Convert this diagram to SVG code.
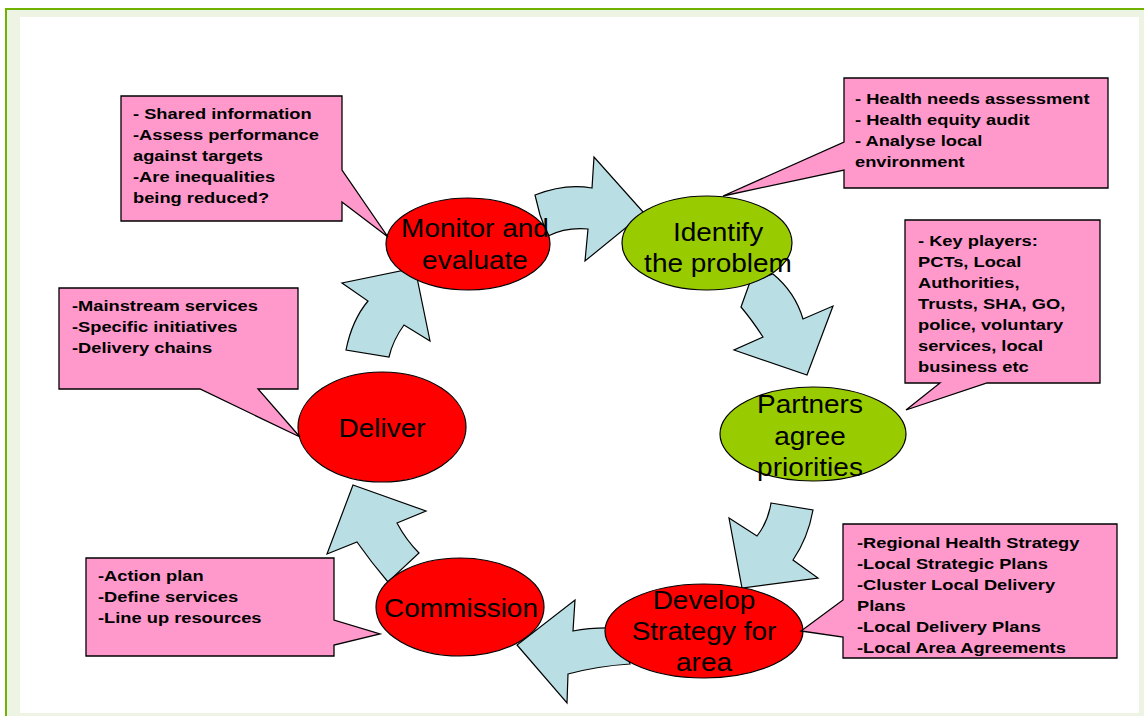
<svg xmlns="http://www.w3.org/2000/svg" width="1144" height="716" viewBox="0 0 1144 716">
<style>
.arrow{fill:#b9dfe4;stroke:#000;stroke-width:1.2;stroke-linejoin:miter}
.red{fill:#ff0000;stroke:#000;stroke-width:1.2}
.green{fill:#99cc00;stroke:#000;stroke-width:1.2}
.call{fill:#ff99cc;stroke:#000;stroke-width:1.3}
.ct{font-family:"Liberation Sans",Arial,sans-serif;font-weight:bold;font-size:15.5px;fill:#000}
.et{font-family:"Liberation Sans",Arial,sans-serif;font-size:25px;fill:#000;text-anchor:middle}
</style>
<rect x="6" y="9" width="1150" height="720" fill="#eef4e4" stroke="#6fb300" stroke-width="2"/>
<rect x="20" y="17" width="1119" height="696" fill="#ffffff"/>

<g id="connectors">
<path class="arrow" d="M535,195 Q565,183 592,188 L594,157 L644,213 L585,261 L588,229 Q566,227 548,236 L540,215 Z"/>
<path class="arrow" d="M741,307 L750,282 L773,274 Q795,292 803,319 L833,306 L807,375 L734,350 L763,337 Q752,320 741,307 Z"/>
<path class="arrow" d="M771,503 L813,510 Q808,538 793,560 L818,578 L742,588 L729,518 L757,536 Q768,522 771,503 Z"/>
<path class="arrow" d="M630,664 Q598,666 568,674 L567,703 L517,645 L575,600 L573,631 Q592,627 618,628 Z"/>
<path class="arrow" d="M353,485 L426,511 L397,523 Q406,540 419,553 L388,582 Q371,562 357,542 L327,554 Z"/>
<path class="arrow" d="M346,350 Q352,320 368,301 L342,283 L415,268 L430,341 L404,325 Q393,340 389,357 Z"/>
</g>

<g id="node-monitor">
<ellipse class="red" cx="468" cy="244" rx="82" ry="46"/>
<g transform="translate(475,0) scale(1.12,1)"><text class="et" x="0" y="237">Monitor and</text><text class="et" x="0" y="269">evaluate</text></g>
</g>
<g id="node-identify">
<ellipse class="green" cx="707" cy="243" rx="85" ry="47"/>
<g transform="translate(718,0) scale(1.12,1)"><text class="et" x="0" y="241">Identify</text><text class="et" x="0" y="272">the problem</text></g>
</g>
<g id="node-partners">
<ellipse class="green" cx="813" cy="434" rx="93" ry="47"/>
<g transform="translate(810,0) scale(1.12,1)"><text class="et" x="0" y="413">Partners</text><text class="et" x="0" y="445">agree</text><text class="et" x="0" y="476">priorities</text></g>
</g>
<g id="node-develop">
<ellipse class="red" cx="704" cy="631" rx="99" ry="47"/>
<g transform="translate(704,0) scale(1.12,1)"><text class="et" x="0" y="609">Develop</text><text class="et" x="0" y="640">Strategy for</text><text class="et" x="0" y="671">area</text></g>
</g>
<g id="node-commission">
<ellipse class="red" cx="460" cy="607" rx="84" ry="49"/>
<g transform="translate(461,0) scale(1.12,1)"><text class="et" x="0" y="617">Commission</text></g>
</g>
<g id="node-deliver">
<ellipse class="red" cx="382" cy="427" rx="84" ry="55"/>
<g transform="translate(382,0) scale(1.12,1)"><text class="et" x="0" y="437">Deliver</text></g>
</g>

<g id="callout-monitor">
<path class="call" d="M121,96 H342 V170 L388,237 L342,202 V221 H121 Z"/>
<g transform="translate(133,0) scale(1.18,1)" class="ct">
<text x="0" y="119">- Shared information</text>
<text x="0" y="140">-Assess performance</text>
<text x="0" y="161">against targets</text>
<text x="0" y="182">-Are inequalities</text>
<text x="0" y="203">being reduced?</text>
</g>
</g>
<g id="callout-identify">
<path class="call" d="M844,78 H1108 V188 H844 V170 L723,196 L844,142 Z"/>
<g transform="translate(855,0) scale(1.18,1)" class="ct">
<text x="0" y="104">- Health needs assessment</text>
<text x="0" y="125">- Health equity audit</text>
<text x="0" y="146">- Analyse local</text>
<text x="0" y="167">environment</text>
</g>
</g>
<g id="callout-partners">
<path class="call" d="M905,220 H1100 V383 H987 L906,410 L940,383 H905 Z"/>
<g transform="translate(918,0) scale(1.18,1)" class="ct">
<text x="0" y="246">- Key players:</text>
<text x="0" y="267">PCTs, Local</text>
<text x="0" y="288">Authorities,</text>
<text x="0" y="309">Trusts, SHA, GO,</text>
<text x="0" y="330">police, voluntary</text>
<text x="0" y="351">services, local</text>
<text x="0" y="372">business etc</text>
</g>
</g>
<g id="callout-deliver">
<path class="call" d="M59,288 H298 V389 H258 L300,437 L200,389 H59 Z"/>
<g transform="translate(72,0) scale(1.18,1)" class="ct">
<text x="0" y="311">-Mainstream services</text>
<text x="0" y="332">-Specific initiatives</text>
<text x="0" y="353">-Delivery chains</text>
</g>
</g>
<g id="callout-develop">
<path class="call" d="M843,524 H1117 V658 H843 V637 L801,631 L843,600 Z"/>
<g transform="translate(857,0) scale(1.18,1)" class="ct">
<text x="0" y="548">-Regional Health Strategy</text>
<text x="0" y="569">-Local Strategic Plans</text>
<text x="0" y="590">-Cluster Local Delivery</text>
<text x="0" y="611">Plans</text>
<text x="0" y="632">-Local Delivery Plans</text>
<text x="0" y="653">-Local Area Agreements</text>
</g>
</g>
<g id="callout-commission">
<path class="call" d="M86,558 H334 V620 L380,634 L334,645 V656 H86 Z"/>
<g transform="translate(98,0) scale(1.18,1)" class="ct">
<text x="0" y="581">-Action plan</text>
<text x="0" y="602">-Define services</text>
<text x="0" y="623">-Line up resources</text>
</g>
</g>
</svg>
